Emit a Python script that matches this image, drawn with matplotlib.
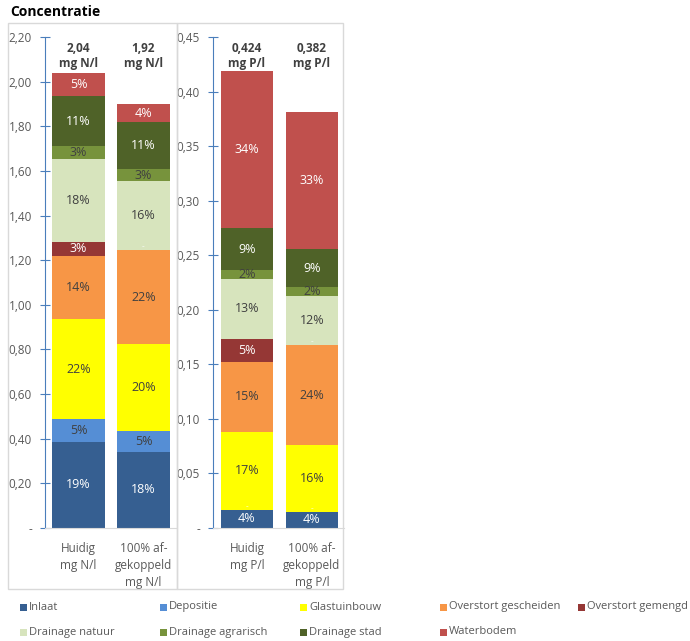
import numpy as np
import matplotlib.pyplot as plt
from matplotlib.patches import Rectangle

# data
series = ['Inlaat', 'Depositie', 'Glastuinbouw', 'Overstort gescheiden', 'Overstort gemengd',
          'Drainage natuur', 'Drainage agrarisch', 'Drainage stad', 'Waterbodem']
colors = ['#365F91', '#558ED5', '#FFFF00', '#F79646', '#953735',
          '#D7E4BD', '#77933C', '#4F6228', '#C0504D']
label_colors = ['white', '#404040', '#404040', '#404040', 'white',
                '#404040', '#404040', 'white', 'white']

n_cats = ['Huidig\nmg N/l', '100% af-\ngekoppeld\nmg N/l']
p_cats = ['Huidig\nmg P/l', '100% af-\ngekoppeld\nmg P/l']

n_huidig = [0.387, 0.101, 0.448, 0.283, 0.064, 0.369, 0.059, 0.224, 0.102]
n_afgek = [0.342, 0.094, 0.387, 0.422, 0.0, 0.310, 0.053, 0.212, 0.078]
p_huidig = [0.0165, 0.0, 0.0718, 0.0642, 0.021, 0.0545, 0.0085, 0.0382, 0.1443]
p_afgek = [0.0147, 0.0, 0.0611, 0.0919, 0.0, 0.0449, 0.0083, 0.0345, 0.1262]

n_huidig_lbl = ['19%', '5%', '22%', '14%', '3%', '18%', '3%', '11%', '5%']
n_afgek_lbl = ['18%', '5%', '20%', '22%', '-', '16%', '3%', '11%', '4%']
p_huidig_lbl = ['4%', '-', '17%', '15%', '5%', '13%', '2%', '9%', '34%']
p_afgek_lbl = ['4%', '-', '16%', '24%', '-', '12%', '2%', '9%', '33%']

n_totals = ['2,04\nmg N/l', '1,92\nmg N/l']
p_totals = ['0,424\nmg P/l', '0,382\nmg P/l']

n_ticks = [0, 0.2, 0.4, 0.6, 0.8, 1.0, 1.2, 1.4, 1.6, 1.8, 2.0, 2.2]
p_ticks = [0, 0.05, 0.10, 0.15, 0.20, 0.25, 0.30, 0.35, 0.40, 0.45]

plt.rcParams['font.family'] = ['Open Sans', 'DejaVu Sans']
W, H = 690, 641
fig = plt.figure(figsize=(W / 100, H / 100), dpi=100)

def fx(px):
    return px / W

def fy(py):
    return 1 - py / H

# panel borders
for x0, x1 in [(8, 177), (177, 343)]:
    fig.patches.append(Rectangle((fx(x0), fy(589)), fx(x1 - x0), (589 - 23) / H,
                                 transform=fig.transFigure, fill=False,
                                 edgecolor='#D9D9D9', lw=1.0, zorder=0))

fig.text(fx(10), fy(12), 'Concentratie', fontsize=10, fontweight='bold',
         color='#000000', va='center', ha='left')

tick_col = '#595959'
spine_col = '#4A7EBB'


def draw_panel(left_px, ymax, ticks, fmt, cats, stacks, labels, totals, xleft):
    ax = fig.add_axes([fx(left_px), fy(528), fx(131), 491 / H])
    ax.set_xlim(xleft, xleft + 131 / 65)
    ax.set_ylim(0, ymax)
    x = np.arange(len(cats))
    bottoms = np.zeros(len(cats))
    for i, name in enumerate(series):
        vals = np.array([s[i] for s in stacks])
        ax.bar(x, vals, 0.815, bottom=bottoms, color=colors[i], edgecolor='none', zorder=2)
        for j in range(len(cats)):
            lbl = labels[j][i]
            if lbl == '-':
                # zero value: Excel shows a tiny dash on the boundary
                ax.text(x[j], bottoms[j], '-', ha='center', va='bottom', fontsize=6,
                        color='white', zorder=3)
            else:
                ax.text(x[j], bottoms[j] + vals[j] / 2, lbl, ha='center', va='center',
                        fontsize=9, color=label_colors[i], zorder=3)
        bottoms = bottoms + vals
    for j in range(len(cats)):
        ax.text(x[j], ymax * 0.99, totals[j], ha='center', va='top', fontsize=8.5,
                fontweight='bold', color='#404040', linespacing=1.2)
    ax.set_yticks(ticks)
    ax.set_yticklabels(['-'] + [fmt(t) for t in ticks[1:]])
    ax.tick_params(axis='y', direction='inout', length=7, color=spine_col,
                   labelcolor=tick_col, labelsize=8.5, pad=6)
    ax.set_xticks(x)
    ax.set_xticklabels(cats, fontsize=8.5, color=tick_col, linespacing=1.4)
    ax.tick_params(axis='x', length=0, pad=10)
    for s in ['top', 'right']:
        ax.spines[s].set_visible(False)
    ax.spines['left'].set_color(spine_col)
    ax.spines['bottom'].set_color('#D9D9D9')
    ax.set_facecolor('none')
    return ax


fmt2 = lambda t: f'{t:.2f}'.replace('.', ',')
draw_panel(45, 2.2, n_ticks, fmt2, n_cats,
           [n_huidig, n_afgek], [n_huidig_lbl, n_afgek_lbl], n_totals, -0.515)
draw_panel(213, 0.45, p_ticks, fmt2, p_cats,
           [p_huidig, p_afgek], [p_huidig_lbl, p_afgek_lbl], p_totals, -0.523)

# legend along the bottom, row by row like Excel
col_x = [20, 160, 300, 440, 578]
row_y = [607, 632]
for k, (name, c) in enumerate(zip(series, colors)):
    px = col_x[k % 5]
    py = row_y[k // 5]
    fig.patches.append(Rectangle((fx(px), fy(py + 3.5)), fx(7), 7 / H,
                                 transform=fig.transFigure, facecolor=c,
                                 edgecolor='none'))
    fig.text(fx(px + 9), fy(py), name, fontsize=8, color=tick_col,
             va='center', ha='left')

fig.savefig('out.png', dpi=100)
